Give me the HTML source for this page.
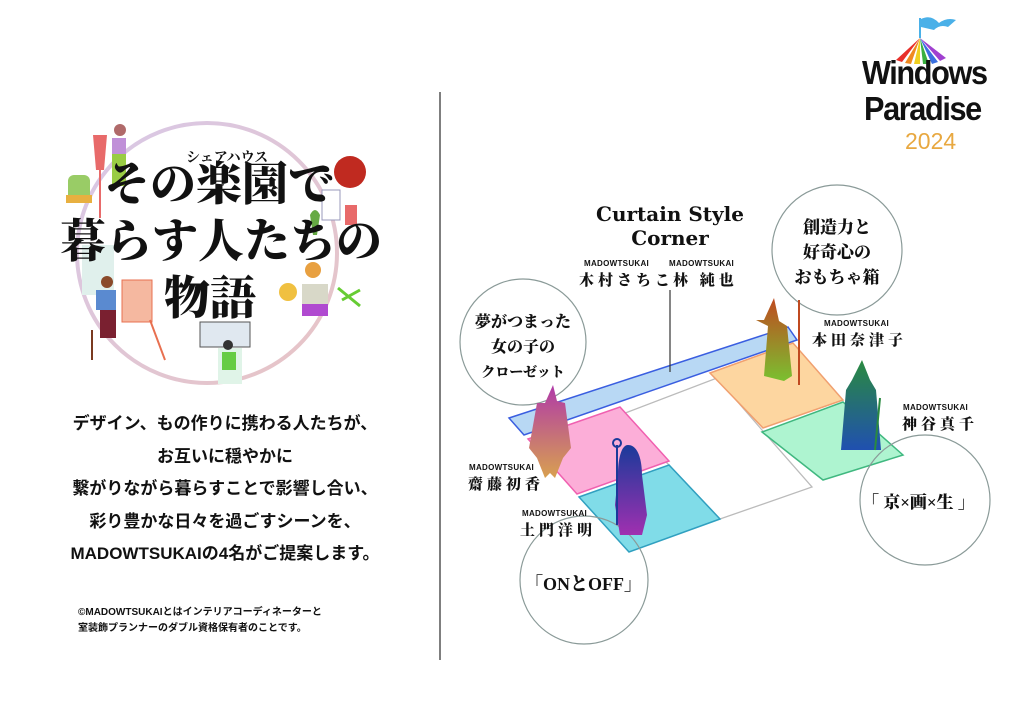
<!DOCTYPE html>
<html><head><meta charset="utf-8"><style>
body{margin:0;width:1024px;height:724px;background:#fff;position:relative;overflow:hidden;font-family:"Liberation Sans","Noto Sans CJK JP",sans-serif;color:#111}
.a{position:absolute;white-space:nowrap}
.ser{font-family:"Liberation Serif","Noto Serif CJK JP",serif;font-weight:900}
.sm{font-size:8px;font-weight:bold;letter-spacing:0.3px}
.nm{font-size:15px;font-weight:900;letter-spacing:4px;font-family:"Liberation Serif","Noto Serif CJK JP",serif}
.c{text-align:center}
</style></head><body>
<svg class="a" style="left:0;top:0" width="1024" height="724">
<defs>
<linearGradient id="ring" x1="0" y1="0" x2="1" y2="1"><stop offset="0" stop-color="#d8c8e8"/><stop offset="1" stop-color="#e8c4c4"/></linearGradient>
<linearGradient id="w1" x1="0" y1="0" x2="0" y2="1"><stop offset="0" stop-color="#b03aa8"/><stop offset="1" stop-color="#d8a050"/></linearGradient>
<linearGradient id="w2" x1="0" y1="0" x2="0" y2="1"><stop offset="0" stop-color="#1a3a9a"/><stop offset="1" stop-color="#a030b0"/></linearGradient>
<linearGradient id="w3" x1="0" y1="0" x2="0" y2="1"><stop offset="0" stop-color="#c04a20"/><stop offset="1" stop-color="#7ac030"/></linearGradient>
<linearGradient id="w4" x1="0" y1="0" x2="0" y2="1"><stop offset="0" stop-color="#2a8a40"/><stop offset="1" stop-color="#2050b0"/></linearGradient>
</defs>
<circle cx="207" cy="253" r="130" fill="none" stroke="url(#ring)" stroke-width="4"/>
<line x1="440" y1="92" x2="440" y2="660" stroke="#555" stroke-width="1.5"/>
<rect x="68" y="175" width="22" height="28" fill="#9c6" rx="6"/><rect x="66" y="195" width="26" height="8" fill="#e8b040"/>
<path d="M93 135 L107 135 L104 170 L96 170Z" fill="#e86a6a"/><line x1="100" y1="170" x2="100" y2="218" stroke="#e86a6a" stroke-width="2"/>
<circle cx="120" cy="130" r="6" fill="#b06a6a"/><rect x="112" y="138" width="14" height="16" fill="#c090d8"/><rect x="112" y="154" width="14" height="32" fill="#9c4"/>
<circle cx="350" cy="172" r="16" fill="#c02a20"/>
<rect x="322" y="190" width="18" height="30" fill="#fff" stroke="#99b"/><rect x="345" y="205" width="12" height="20" fill="#e86a6a"/>
<path d="M310 215 q5 -10 10 0 l-3 20 h-4z" fill="#6a4"/>
<circle cx="313" cy="270" r="8" fill="#e8a040"/><rect x="302" y="284" width="26" height="20" fill="#d8d8c8"/><rect x="302" y="304" width="26" height="12" fill="#b04ad0"/>
<circle cx="288" cy="292" r="9" fill="#f0c040"/>
<path d="M338 288 l22 18 M342 300 l18 -10" stroke="#6c3" stroke-width="3"/>
<rect x="82" y="245" width="32" height="50" fill="#e0f0ec"/>
<rect x="122" y="280" width="30" height="42" fill="#f5b8a0" stroke="#e87050"/>
<circle cx="107" cy="282" r="6" fill="#8a4a2a"/><rect x="96" y="290" width="20" height="20" fill="#5a8ad0"/><rect x="100" y="310" width="16" height="28" fill="#7a2030"/>
<line x1="92" y1="330" x2="92" y2="360" stroke="#7a3a20" stroke-width="2"/><line x1="150" y1="320" x2="165" y2="360" stroke="#e87050" stroke-width="2"/>
<rect x="200" y="322" width="50" height="25" fill="#e0e8f0" stroke="#555"/>
<rect x="218" y="348" width="24" height="36" fill="#e0f4e8"/><rect x="222" y="352" width="14" height="18" fill="#6c4"/><circle cx="228" cy="345" r="5" fill="#333"/>
<polygon points="620,415 717,378 762,430 812,487 720,519 669,465" fill="none" stroke="#bbb" stroke-width="1.3"/>
<polygon points="509,418 788,327 797,340 524,435" fill="#b8d8f4" stroke="#3a5ee0" stroke-width="1.5"/>
<polygon points="528,439 620,407 669,461 577,494" fill="#fcaed8" stroke="#f060b0" stroke-width="1.5"/>
<polygon points="579,497 669,465 720,519 629,552" fill="#80dce8" stroke="#30a0c0" stroke-width="1.5"/>
<polygon points="710,373 793,343 843,400 763,428" fill="#fdd6a0" stroke="#f0a070" stroke-width="1.5"/>
<polygon points="762,432 843,402 903,455 823,480" fill="#aef4d0" stroke="#40b880" stroke-width="1.5"/>
<line x1="670" y1="290" x2="670" y2="372" stroke="#333" stroke-width="1.2"/>
<g fill="none" stroke="#8a9a98" stroke-width="1.2">
<circle cx="523" cy="342" r="63"/><circle cx="837" cy="250" r="65"/><circle cx="925" cy="500" r="65"/><circle cx="584" cy="580" r="64"/></g>
<path d="M553 385 l-8 18 l-8 0 l-8 45 l8 10 l8 20 l5 -5 l5 5 l8 -20 l8 -10 l-6 -45 l-8 -2z" fill="url(#w1)"/>
<path d="M628 445 c10 0 14 15 14 30 l5 40 l-5 20 h-22 l-5 -30 l3 -30 c0 -15 3 -30 10 -30z" fill="url(#w2)"/><line x1="617" y1="445" x2="617" y2="525" stroke="#1a3a9a" stroke-width="2"/><circle cx="617" cy="443" r="4" fill="none" stroke="#1a3a9a" stroke-width="2"/>
<path d="M774 298 l-10 22 l-8 0 l12 6 l-4 50 l20 5 l8 -5 l-5 -50 l-8 -5z" fill="url(#w3)"/><line x1="799" y1="300" x2="799" y2="385" stroke="#c04a20" stroke-width="2"/>
<path d="M862 360 l-10 20 l-6 10 l-5 60 l40 0 l-5 -60 l-6 -10z" fill="url(#w4)"/><line x1="880" y1="398" x2="875" y2="450" stroke="#2a8a40" stroke-width="2"/>
<g transform="translate(0,0)">
<path d="M896 60 L920 38 L902 62Z" fill="#e8302a"/><path d="M905 63 L920 38 L911 64Z" fill="#f08a20"/><path d="M914 64 L920 38 L920 64Z" fill="#f0d020"/><path d="M923 64 L920 38 L929 64Z" fill="#3ab040"/><path d="M932 64 L920 38 L938 62Z" fill="#3a70e0"/><path d="M940 61 L920 38 L946 58Z" fill="#a040d0"/>
<line x1="920" y1="38" x2="920" y2="18" stroke="#4ab0e8" stroke-width="2"/><path d="M921 19 q10 -5 18 4 q8 -6 17 -3 l-8 7 q-8 -3 -14 3 l-13 -3z" fill="#4ab0e8"/>
</g>
</svg>
<div class="a" style="left:862px;top:56px;font-size:33px;font-weight:bold;letter-spacing:-1.5px;line-height:34px;transform:scaleX(0.93);transform-origin:left">Windows</div>
<div class="a" style="left:864px;top:92px;font-size:33px;font-weight:bold;letter-spacing:-1.5px;line-height:34px;transform:scaleX(0.93);transform-origin:left">Paradise</div>
<div class="a" style="left:905px;top:129px;font-size:23px;color:#e8a840;line-height:24px">2024</div>

<div class="a ser" style="left:186px;top:147px;font-size:14px;font-weight:bold">シェアハウス</div>
<div class="a ser" style="left:104px;top:158px;font-size:46px;line-height:54px">その楽園で</div>
<div class="a ser" style="left:60px;top:215px;font-size:46px;line-height:54px">暮らす人たちの</div>
<div class="a ser" style="left:164px;top:272px;font-size:46px;line-height:54px">物語</div>

<div class="a c" style="left:20px;width:410px;top:408px;font-size:17px;font-weight:bold;line-height:32.5px">デザイン、もの作りに携わる人たちが、<br>お互いに穏やかに<br>繋がりながら暮らすことで影響し合い、<br>彩り豊かな日々を過ごすシーンを、<br>MADOWTSUKAIの4名がご提案します。</div>
<div class="a" style="left:78px;top:605px;font-size:10px;font-weight:bold;line-height:16px">©MADOWTSUKAIとはインテリアコーディネーターと<br>室装飾プランナーのダブル資格保有者のことです。</div>

<div class="a c ser" style="left:560px;width:220px;top:202px;font-size:20px;line-height:24px;font-family:'DejaVu Serif','Noto Serif CJK JP',serif;font-weight:bold">Curtain Style<br>Corner</div>
<div class="a sm" style="left:584px;top:259px">MADOWTSUKAI</div>
<div class="a nm" style="left:579px;top:269px">木村さちこ</div>
<div class="a sm" style="left:669px;top:259px">MADOWTSUKAI</div>
<div class="a nm" style="left:673px;top:269px">林 純也</div>
<div class="a sm" style="left:824px;top:319px">MADOWTSUKAI</div>
<div class="a nm" style="left:812px;top:329px">本田奈津子</div>
<div class="a sm" style="left:903px;top:403px">MADOWTSUKAI</div>
<div class="a nm" style="left:902px;top:413px">神谷真千</div>
<div class="a sm" style="left:469px;top:463px">MADOWTSUKAI</div>
<div class="a nm" style="left:468px;top:473px">齋藤初香</div>
<div class="a sm" style="left:522px;top:509px">MADOWTSUKAI</div>
<div class="a nm" style="left:520px;top:519px">土門洋明</div>

<div class="a c ser" style="left:460px;width:126px;top:310px;font-size:16px;line-height:25px">夢がつまった<br>女の子の<br><span style="font-size:14px">クローゼット</span></div>
<div class="a c ser" style="left:772px;width:130px;top:215px;font-size:17px;line-height:25px">創造力と<br>好奇心の<br>おもちゃ箱</div>
<div class="a ser" style="left:862px;top:488px;font-size:17px">「 京×画×生 」</div>
<div class="a ser" style="left:525px;top:570px;font-size:18px">「ONとOFF」</div>
</body></html>
